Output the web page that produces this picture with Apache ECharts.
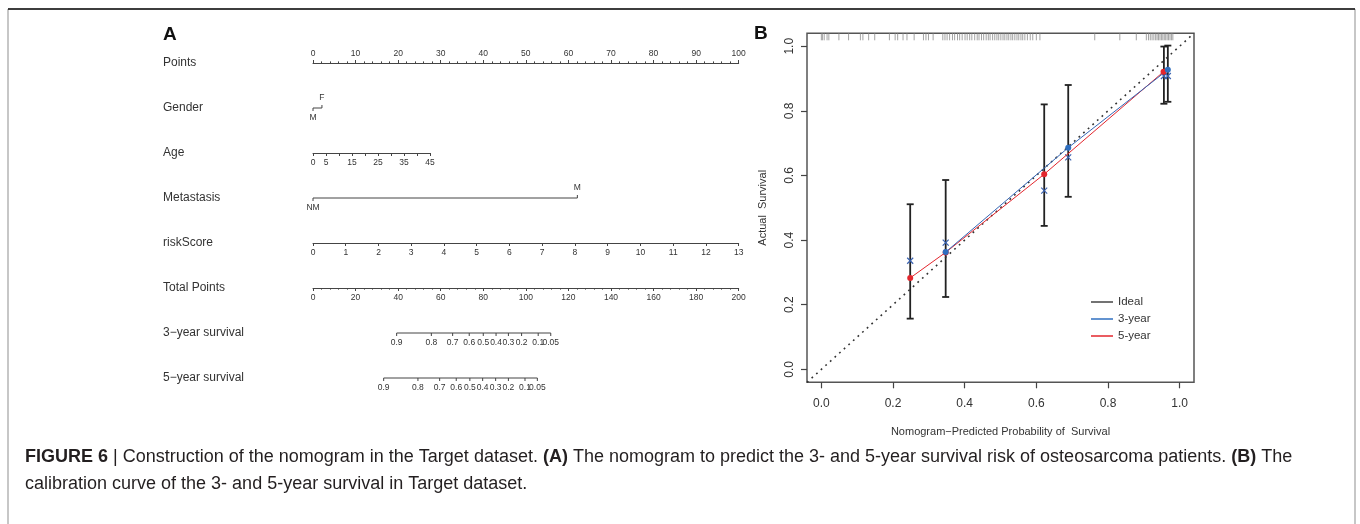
<!DOCTYPE html>
<html>
<head>
<meta charset="utf-8">
<script src="https://cdn.jsdelivr.net/npm/echarts@6/dist/echarts.min.js"></script>
<style>
html, body { margin: 0; padding: 0; background: #fff; }
#main { width: 1360px; height: 524px; }
</style>
</head>
<body>
<div id="main"></div>
<script>
// ---------- panel A : nomogram ----------
const rowNames = ['Points', 'Gender', 'Age', 'Metastasis', 'riskScore', 'Total Points', '3\u2212year survival', '5\u2212year survival'];
const genderLevels = ['M', 'F'];
const genderPoints = [0, 2.1];
const metLevels = ['NM', 'M'];
const metPoints = [0, 62.1];
const ageMax = 45;
const agePointsAtMax = 27.5;
const riskMax = 13;
const totalMax = 200;
const survLabels = ['0.9', '0.8', '0.7', '0.6', '0.5', '0.4', '0.3', '0.2', '0.1', '0.05'];
const surv3Total = [39.3, 55.6, 65.6, 73.4, 80.0, 86.0, 91.8, 98.0, 105.8, 111.7];
const surv5Total = [33.2, 49.3, 59.5, 67.3, 73.7, 79.7, 85.8, 91.8, 99.6, 105.4];

// ---------- panel B : calibration ----------
const fiveYearX = [0.248, 0.347, 0.622, 0.955];
const fiveYearY = [0.283, 0.362, 0.604, 0.921];
const threeYearX = [0.347, 0.689, 0.967];
const threeYearY = [0.363, 0.686, 0.927];
const barX = [0.248, 0.347, 0.622, 0.689, 0.956, 0.967];
const barLow = [0.157, 0.224, 0.444, 0.534, 0.822, 0.828];
const barHigh = [0.511, 0.586, 0.820, 0.880, 0.999, 1.002];
const corrX = [0.248, 0.347, 0.622, 0.689, 0.956, 0.967];
const corrY = [0.336, 0.392, 0.553, 0.656, 0.908, 0.908];
const rugX = [0.0, 0.003, 0.008, 0.016, 0.021, 0.049, 0.076, 0.109, 0.116, 0.132, 0.149, 0.19, 0.206, 0.213,
  0.228, 0.239, 0.259, 0.285, 0.292, 0.299, 0.312, 0.339, 0.345, 0.351, 0.358, 0.366, 0.372, 0.38, 0.386,
  0.393, 0.401, 0.407, 0.414, 0.42, 0.428, 0.435, 0.44, 0.447, 0.453, 0.46, 0.466, 0.471, 0.478, 0.484, 0.49,
  0.495, 0.501, 0.507, 0.512, 0.518, 0.523, 0.529, 0.534, 0.54, 0.546, 0.551, 0.557, 0.562, 0.568, 0.575,
  0.583, 0.59, 0.6, 0.61, 0.763, 0.833, 0.879, 0.907, 0.913, 0.918, 0.923, 0.928, 0.933, 0.937, 0.941,
  0.945, 0.949, 0.953, 0.957, 0.961, 0.965, 0.969, 0.973, 0.977, 0.981];
const calTicks = [0, 0.2, 0.4, 0.6, 0.8, 1.0];

const FONT = 'Liberation Sans, Arial, sans-serif';
const INK = '#333';

// layout of the nomogram
const nomoLeft = 313;
const nomoW = 425.7;
const rowTop = 63;
const rowGap = 45;
const rowY = i => rowTop + rowGap * i;

// tick items for the custom nomogram rows: [points, row, dir]
const nomoTicks = [];
const nomoTickText = [];
genderLevels.forEach((l, i) => { nomoTicks.push([genderPoints[i], 1, i === 0 ? 1 : -1]); nomoTickText.push(l); });
metLevels.forEach((l, i) => { nomoTicks.push([metPoints[i], 3, i === 0 ? 1 : -1]); nomoTickText.push(l); });
survLabels.forEach((l, i) => { nomoTicks.push([surv3Total[i] / totalMax * 100, 6, 1]); nomoTickText.push(l); });
survLabels.forEach((l, i) => { nomoTicks.push([surv5Total[i] / totalMax * 100, 7, 1]); nomoTickText.push(l); });

const nomoSegs = [
  [genderPoints[0], genderPoints[1], 1],
  [metPoints[0], metPoints[1], 3],
  [surv3Total[0] / totalMax * 100, surv3Total[surv3Total.length - 1] / totalMax * 100, 6],
  [surv5Total[0] / totalMax * 100, surv5Total[surv5Total.length - 1] / totalMax * 100, 7]
];

const chart = echarts.init(document.getElementById('main'));

function rowGrid(row, width) {
  return { left: nomoLeft, top: rowY(row) - 1, width: width, height: 1 };
}
function nomoAxis(gridIndex, max, interval, extra) {
  return Object.assign({
    type: 'value', gridIndex: gridIndex, min: 0, max: max, interval: interval, position: 'bottom',
    axisLine: { show: true, onZero: false, lineStyle: { color: '#444', width: 1 } },
    axisTick: { show: true, length: 3, lineStyle: { color: '#444', width: 1 } },
    axisLabel: { fontSize: 8.5, color: INK, margin: 5, fontFamily: FONT },
    splitLine: { show: false }
  }, extra || {});
}
const hiddenY = gi => ({ type: 'value', gridIndex: gi, show: false, min: 0, max: 1 });

const option = {
  animation: false,
  backgroundColor: '#fff',
  textStyle: { fontFamily: FONT },
  title: {
    left: 20, top: 439,
    text: '{b|FIGURE 6} | Construction of the nomogram in the Target dataset. {b|(A)} The nomogram to predict the 3- and 5-year survival risk of osteosarcoma patients. {b|(B)} The\ncalibration curve of the 3- and 5-year survival in Target dataset.',
    textStyle: {
      fontSize: 18, fontWeight: 'normal', color: '#231f20', lineHeight: 27, fontFamily: FONT,
      rich: { b: { fontWeight: 'bold', fontSize: 18, lineHeight: 27, color: '#231f20', fontFamily: FONT } }
    }
  },
  graphic: [
    { type: 'rect', shape: { x: 8, y: 9, width: 1347, height: 530 }, style: { fill: 'none', stroke: '#8f8f8f', lineWidth: 1 } },
    { type: 'line', shape: { x1: 8, y1: 9, x2: 1355, y2: 9 }, style: { stroke: '#111', lineWidth: 1.5 } },
    { type: 'text', x: 163, y: 35, style: { text: 'A', fontSize: 19, fontWeight: 'bold', fill: '#111', verticalAlign: 'middle', fontFamily: FONT } },
    { type: 'text', x: 754, y: 34, style: { text: 'B', fontSize: 19, fontWeight: 'bold', fill: '#111', verticalAlign: 'middle', fontFamily: FONT } }
  ],
  grid: [
    { left: nomoLeft, top: rowTop, width: nomoW, height: rowGap * 7 },
    rowGrid(2, nomoW * agePointsAtMax / 100),
    rowGrid(4, nomoW),
    rowGrid(5, nomoW),
    { left: 807, top: 33.3, width: 387, height: 349, show: true, borderColor: '#555', borderWidth: 1.5, backgroundColor: 'transparent' }
  ],
  xAxis: [
    nomoAxis(0, 100, 10, {
      position: 'top',
      minorTick: { show: true, splitNumber: 5, length: 1.6, lineStyle: { color: '#444' } }
    }),
    nomoAxis(1, ageMax, 5, {
      axisLabel: {
        fontSize: 8.5, color: INK, margin: 5, fontFamily: FONT,
        formatter: v => (v === 0 || v % 10 === 5 ? String(v) : '')
      }
    }),
    nomoAxis(2, riskMax, 1),
    nomoAxis(3, totalMax, 20, {
      minorTick: { show: true, splitNumber: 5, length: 1.6, lineStyle: { color: '#444' } }
    }),
    {
      type: 'value', gridIndex: 4, min: -0.04, max: 1.04, position: 'bottom',
      name: 'Nomogram\u2212Predicted Probability of  Survival', nameLocation: 'middle', nameGap: 44,
      nameTextStyle: { fontSize: 11, color: INK, fontFamily: FONT },
      axisLine: { show: false, onZero: false },
      axisTick: { show: true, length: 6, customValues: calTicks, lineStyle: { color: '#444', width: 1.2 } },
      axisLabel: { customValues: calTicks, formatter: v => v.toFixed(1), fontSize: 12, color: INK, margin: 15, fontFamily: FONT },
      splitLine: { show: false }
    }
  ],
  yAxis: [
    {
      type: 'value', gridIndex: 0, min: 0, max: 7, interval: 1, inverse: true,
      axisLine: { show: false }, axisTick: { show: false }, splitLine: { show: false },
      axisLabel: { formatter: v => rowNames[v] || '', align: 'left', margin: 150, fontSize: 12, color: INK, fontFamily: FONT }
    },
    hiddenY(1), hiddenY(2), hiddenY(3),
    {
      type: 'value', gridIndex: 4, min: -0.04, max: 1.04, position: 'left',
      name: 'Actual  Survival', nameLocation: 'middle', nameGap: 39, nameRotate: 90,
      nameTextStyle: { fontSize: 11, color: INK, fontFamily: FONT },
      axisLine: { show: false, onZero: false },
      axisTick: { show: true, length: 6, customValues: calTicks, lineStyle: { color: '#444', width: 1.2 } },
      axisLabel: { customValues: calTicks, formatter: v => v.toFixed(1), rotate: 90, fontSize: 12, color: INK, margin: 11, fontFamily: FONT },
      splitLine: { show: false }
    }
  ],
  legend: {
    orient: 'vertical', left: 1091, top: 296, padding: 0, itemWidth: 22, itemHeight: 1.5, itemGap: 5, icon: 'rect',
    textStyle: { fontSize: 11.5, color: INK, fontFamily: FONT },
    data: ['Ideal', '3-year', '5-year']
  },
  series: [
    // nomogram row lines (categorical and survival scales)
    {
      type: 'custom', xAxisIndex: 0, yAxisIndex: 0, silent: true,
      data: nomoSegs,
      renderItem: (params, api) => {
        const a = api.coord([api.value(0), api.value(2)]);
        const b = api.coord([api.value(1), api.value(2)]);
        return { type: 'line', shape: { x1: a[0], y1: a[1], x2: b[0], y2: b[1] }, style: { stroke: '#444', lineWidth: 1 } };
      }
    },
    {
      type: 'custom', xAxisIndex: 0, yAxisIndex: 0, silent: true,
      data: nomoTicks,
      renderItem: (params, api) => {
        const p = api.coord([api.value(0), api.value(1)]);
        const dir = api.value(2);
        return {
          type: 'group', children: [
            { type: 'line', shape: { x1: p[0], y1: p[1], x2: p[0], y2: p[1] + dir * 3 }, style: { stroke: '#444', lineWidth: 1 } },
            { type: 'text', x: p[0], y: p[1] + dir * 10, style: { text: nomoTickText[params.dataIndex], fontSize: 8.5, fill: INK, align: 'center', verticalAlign: 'middle', fontFamily: FONT } }
          ]
        };
      }
    },
    // calibration: rug of predicted values
    {
      type: 'custom', xAxisIndex: 4, yAxisIndex: 4, silent: true, clip: false,
      data: rugX.map(v => [v]),
      renderItem: (params, api) => {
        const p = api.coord([api.value(0), 1.04]);
        return { type: 'line', shape: { x1: p[0], y1: p[1], x2: p[0], y2: p[1] + 7 }, style: { stroke: '#8c8c8c', lineWidth: 0.8 } };
      }
    },
    // calibration: error bars
    {
      type: 'custom', xAxisIndex: 4, yAxisIndex: 4, silent: true,
      data: barX.map((x, i) => [x, barLow[i], barHigh[i]]),
      renderItem: (params, api) => {
        const lo = api.coord([api.value(0), api.value(1)]);
        const hi = api.coord([api.value(0), api.value(2)]);
        const st = { stroke: '#222', lineWidth: 1.8 };
        return {
          type: 'group', children: [
            { type: 'line', shape: { x1: lo[0], y1: lo[1], x2: hi[0], y2: hi[1] }, style: st },
            { type: 'line', shape: { x1: lo[0] - 3.5, y1: lo[1], x2: lo[0] + 3.5, y2: lo[1] }, style: st },
            { type: 'line', shape: { x1: hi[0] - 3.5, y1: hi[1], x2: hi[0] + 3.5, y2: hi[1] }, style: st }
          ]
        };
      }
    },
    {
      name: 'Ideal', type: 'line', xAxisIndex: 4, yAxisIndex: 4, silent: true, showSymbol: false,
      data: [[-0.04, -0.04], [1.04, 1.04]],
      itemStyle: { color: '#444' },
      lineStyle: { color: '#333', width: 1.6, type: [1.8, 4.4] }
    },
    {
      name: '5-year', type: 'line', xAxisIndex: 4, yAxisIndex: 4, silent: true,
      data: fiveYearX.map((x, i) => [x, fiveYearY[i]]),
      symbol: 'circle', symbolSize: 6,
      itemStyle: { color: '#e3262d' },
      lineStyle: { color: '#e3262d', width: 1 }
    },
    {
      name: '3-year', type: 'line', xAxisIndex: 4, yAxisIndex: 4, silent: true,
      data: threeYearX.map((x, i) => [x, threeYearY[i]]),
      symbol: 'circle', symbolSize: 6,
      itemStyle: { color: '#2f6fc0' },
      lineStyle: { color: '#3566b5', width: 1 }
    },
    // calibration: bias-corrected estimates (x marks)
    {
      type: 'custom', xAxisIndex: 4, yAxisIndex: 4, silent: true,
      data: corrX.map((x, i) => [x, corrY[i]]),
      renderItem: (params, api) => {
        const p = api.coord([api.value(0), api.value(1)]);
        const s = 3, st = { stroke: '#3a62b0', lineWidth: 1.2 };
        return {
          type: 'group', children: [
            { type: 'line', shape: { x1: p[0] - s, y1: p[1] - s, x2: p[0] + s, y2: p[1] + s }, style: st },
            { type: 'line', shape: { x1: p[0] - s, y1: p[1] + s, x2: p[0] + s, y2: p[1] - s }, style: st }
          ]
        };
      }
    }
  ]
};

chart.setOption(option);
</script>
</body>
</html>
